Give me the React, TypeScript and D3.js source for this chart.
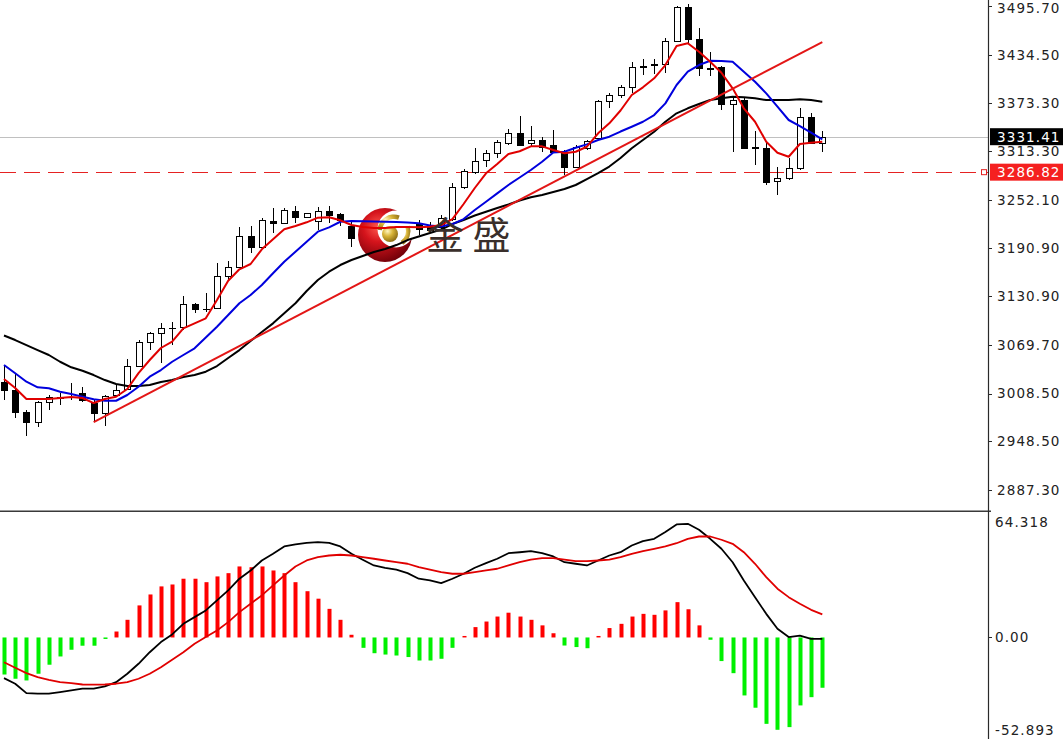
import React from 'react';
import * as d3 from 'd3';

// ---------- DATA ----------
const opens = [3023.0, 3013.0, 2985.3, 2972.7, 2997.9, 3002.9, 3004.2, 3009.2, 2996.6, 2984.1,
  3006.1, 3014.2, 3043.1, 3073.7, 3084.2, 3090.9, 3091.8, 3120.7, 3114.8, 3116.0,
  3156.6, 3167.9, 3206.5, 3193.1, 3225.8, 3222.9, 3238.4, 3230.8, 3225.8, 3238.4,
  3234.2, 3219.1, 3205.3, 3211.6, 3215.3, 3220.4, 3216.6, 3221.6, 3217.9, 3217.9,
  3227.9, 3268.1, 3287.6, 3302.1, 3310.5, 3323.8, 3335.6, 3323.1, 3327.6, 3320.9,
  3311.8, 3293.7, 3316.8, 3329.4, 3376.6, 3383.2, 3393.5, 3418.6, 3422.1, 3422.8,
  3452.0, 3494.0, 3453.8, 3417.3, 3418.6, 3372.5, 3377.5, 3318.0, 3316.8, 3276.1,
  3279.1, 3291.6, 3355.8, 3323.8];
const highs = [3043.1, 3033.1, 2987.8, 2999.2, 3006.7, 3009.2, 3021.8, 3016.7, 3000.4, 3006.7,
  3019.3, 3051.9, 3075.8, 3086.3, 3097.6, 3098.8, 3131.1, 3122.3, 3135.3, 3173.0,
  3175.5, 3217.5, 3219.1, 3228.8, 3241.4, 3241.4, 3244.3, 3236.1, 3243.4, 3244.3,
  3235.8, 3225.8, 3216.6, 3221.6, 3224.1, 3229.2, 3230.4, 3226.7, 3224.1, 3232.9,
  3273.5, 3290.4, 3316.8, 3315.3, 3327.2, 3340.7, 3357.0, 3344.4, 3331.4, 3340.4,
  3314.7, 3320.9, 3327.2, 3377.5, 3385.9, 3396.4, 3425.6, 3428.7, 3428.7, 3455.1,
  3495.7, 3498.2, 3467.6, 3438.2, 3420.2, 3382.5, 3381.6, 3338.9, 3325.1, 3293.7,
  3304.2, 3367.1, 3360.8, 3338.5];
const lows = [3000.4, 2977.8, 2955.1, 2966.5, 2987.8, 2994.1, 3000.4, 2997.9, 2972.7, 2967.7,
  3004.2, 3013.0, 3041.9, 3063.2, 3047.3, 3069.5, 3088.4, 3109.8, 3111.4, 3115.7,
  3150.4, 3165.9, 3185.6, 3192.3, 3209.9, 3222.5, 3222.5, 3230.4, 3214.1, 3222.5,
  3219.1, 3192.3, 3201.5, 3206.5, 3211.6, 3211.6, 3212.8, 3207.8, 3210.3, 3214.1,
  3226.0, 3265.6, 3284.5, 3292.7, 3304.2, 3320.9, 3319.3, 3318.8, 3312.5, 3310.5,
  3283.2, 3292.4, 3314.7, 3327.2, 3367.1, 3379.6, 3385.9, 3408.9, 3410.2, 3411.1,
  3450.8, 3448.8, 3407.7, 3407.7, 3364.9, 3312.5, 3316.5, 3295.8, 3270.7, 3258.1,
  3276.9, 3289.5, 3322.2, 3312.5];
const closes = [3013.0, 2985.3, 2972.7, 2997.9, 3004.2, 3004.2, 3004.8, 3000.4, 2984.1, 3005.4,
  3013.6, 3043.1, 3073.3, 3084.2, 3091.3, 3091.5, 3120.7, 3114.8, 3115.4, 3156.3,
  3167.9, 3206.5, 3193.1, 3226.7, 3222.5, 3239.2, 3230.8, 3235.1, 3238.4, 3233.0,
  3226.7, 3203.6, 3211.6, 3216.6, 3219.1, 3216.6, 3221.6, 3215.3, 3214.1, 3229.2,
  3268.5, 3288.2, 3301.4, 3310.5, 3324.3, 3335.6, 3321.3, 3327.6, 3318.8, 3312.5,
  3293.7, 3318.8, 3325.9, 3376.6, 3383.8, 3393.8, 3418.6, 3420.6, 3422.8, 3452.0,
  3494.0, 3453.8, 3417.3, 3416.8, 3372.5, 3377.5, 3317.5, 3317.5, 3274.8, 3279.1,
  3291.6, 3355.8, 3323.8, 3331.41];

const maFast = [3026.8, 3015.5, 3001.7, 3001.7, 3001.7, 3002.9, 3004.2, 3002.9, 2996.6, 3001.7,
  3004.5, 3014.2, 3034.3, 3050.7, 3065.8, 3073.7, 3090.5, 3096.8, 3103.1, 3126.1,
  3150.4, 3164.7, 3171.4, 3189.8, 3202.4, 3215.0, 3219.1, 3223.8, 3229.6, 3230.1,
  3226.3, 3220.4, 3217.9, 3216.6, 3216.6, 3217.9, 3217.9, 3217.5, 3218.2, 3220.4,
  3227.9, 3246.8, 3266.9, 3285.4, 3297.1, 3309.6, 3313.1, 3319.3, 3319.3, 3314.6,
  3310.5, 3312.5, 3318.8, 3335.6, 3348.2, 3364.3, 3383.8, 3393.5, 3404.8, 3421.5,
  3445.4, 3448.8, 3438.2, 3425.6, 3411.8, 3392.2, 3367.1, 3350.2, 3325.1, 3311.3,
  3306.2, 3322.2, 3323.8, 3325.1];
const maMid = [3044.4, 3034.0, 3023.4, 3016.4, 3015.1, 3010.8, 3007.9, 3004.5, 3001.3, 2999.5,
  2999.5, 3006.7, 3017.1, 3029.7, 3038.1, 3048.5, 3057.0, 3065.4, 3079.0, 3092.5,
  3107.2, 3122.0, 3132.4, 3145.0, 3159.7, 3174.2, 3186.8, 3199.4, 3212.0, 3217.5,
  3224.5, 3225.4, 3225.0, 3224.8, 3224.5, 3224.1, 3223.5, 3222.5, 3219.7, 3218.5,
  3221.6, 3227.9, 3239.2, 3249.7, 3260.2, 3270.7, 3280.1, 3289.5, 3299.9, 3311.5,
  3312.5, 3317.5, 3321.8, 3327.2, 3331.4, 3337.9, 3343.9, 3350.2, 3358.6, 3373.3,
  3396.4, 3413.1, 3421.5, 3426.9, 3426.5, 3425.6, 3413.1, 3400.5, 3385.9, 3369.1,
  3352.4, 3344.8, 3336.4, 3328.1];
const maSlow = [3081.5, 3075.8, 3069.5, 3063.2, 3057.0, 3048.5, 3041.5, 3037.2, 3031.8, 3025.5,
  3020.5, 3018.0, 3018.0, 3019.3, 3023.0, 3025.5, 3029.3, 3031.8, 3036.0, 3043.1,
  3053.2, 3063.2, 3074.6, 3085.9, 3096.8, 3109.4, 3122.0, 3137.4, 3151.2, 3161.7,
  3170.1, 3176.4, 3181.4, 3186.4, 3190.2, 3195.2, 3201.5, 3205.9, 3210.3, 3214.7,
  3221.6, 3226.7, 3232.3, 3237.1, 3241.7, 3246.1, 3251.2, 3255.2, 3258.1, 3261.9,
  3265.6, 3270.7, 3278.2, 3285.7, 3293.9, 3304.6, 3316.8, 3327.2, 3337.7, 3350.2,
  3360.8, 3367.1, 3372.5, 3377.5, 3379.6, 3381.6, 3380.9, 3379.6, 3377.5, 3377.5,
  3377.5, 3378.4, 3377.5, 3375.4];

const macdHist = [-19.3, -21.5, -22.4, -18.9, -14.2, -9.9, -6.4, -4.3, -4.3, -0.7,
  3.1, 9.2, 16.7, 22.4, 26.6, 27.6, 30.6, 30.6, 28.8, 31.8,
  33.5, 37.0, 36.6, 37.0, 34.9, 33.5, 28.8, 24.1, 20.2, 14.9,
  9.2, 1.4, -5.4, -8.2, -8.9, -9.4, -10.2, -12.0, -12.0, -11.1,
  -5.4, 0.5, 5.4, 8.3, 10.9, 12.9, 10.9, 9.2, 6.3, 2.2,
  -4.2, -5.0, -5.6, 0.5, 4.9, 7.1, 10.9, 12.3, 11.8, 14.1,
  18.4, 14.7, 6.3, -1.2, -12.3, -18.6, -30.2, -36.6, -45.0, -48.1,
  -46.7, -35.4, -31.1, -26.2];
const macdMain = [-21.2, -24.1, -29.0, -29.3, -29.3, -28.5, -27.6, -26.7, -26.7, -25.5,
  -23.3, -18.9, -13.7, -7.7, -2.4, 1.6, 7.1, 10.6, 14.1, 19.3,
  24.5, 30.6, 34.9, 40.1, 43.6, 47.4, 48.5, 49.3, 49.7, 49.3,
  47.4, 43.6, 40.5, 37.5, 36.3, 35.3, 33.5, 30.6, 29.7, 28.3,
  30.6, 33.2, 36.3, 38.7, 41.0, 43.9, 44.4, 45.0, 43.9, 42.2,
  39.2, 38.4, 37.5, 40.1, 42.7, 44.4, 47.9, 50.2, 51.4, 54.9,
  58.9, 59.2, 56.1, 51.4, 46.2, 39.2, 29.7, 21.0, 12.3, 4.5,
  0.2, 1.0, -0.7, -0.7];
const macdSignal = [-12.9, -15.8, -18.6, -20.7, -22.1, -23.3, -23.8, -24.5, -24.6, -24.5,
  -24.1, -23.3, -21.5, -18.9, -15.5, -11.6, -7.7, -3.3, 0.2, 3.6,
  8.0, 13.2, 17.6, 21.9, 27.1, 32.3, 37.0, 40.1, 41.8, 42.7,
  43.1, 42.7, 41.8, 41.0, 40.1, 39.2, 38.4, 36.6, 35.3, 34.0,
  33.2, 33.2, 34.0, 34.9, 35.8, 37.5, 39.2, 40.5, 41.3, 41.3,
  40.5, 39.8, 39.8, 40.1, 40.5, 41.8, 43.6, 45.0, 46.2, 47.4,
  49.1, 51.4, 52.6, 52.6, 50.9, 48.8, 44.4, 38.4, 31.4, 25.4,
  21.0, 17.6, 14.4, 12.0];

const priceTicks = [3495.70, 3434.50, 3373.30, 3313.30, 3252.10, 3190.90, 3130.90, 3069.70, 3008.50, 2948.50, 2887.30];
const macdMax = 64.318;
const macdMin = -52.893;
const lastPrice = 3331.41;
const levelPrice = 3286.82;
const trendFrom = { i: 8, v: 2972.7 };
const trendTo = { i: 73, v: 3450.4 };
const logoText = '金 盛';

export default function App() {
  const W = 1063, H = 739;
  const axisX = 988;
  const x = d3.scaleLinear().domain([0, opens.length - 1]).range([4, 822.3]);
  const y = d3.scaleLinear().domain([2887.3, 3495.7]).range([490, 6]);
  const m = d3.scaleLinear().domain([macdMin, macdMax]).range([739, 514]);

  const px = (i: number) => Math.round(x(i));
  const line = (arr: number[], sc: d3.ScaleLinear<number, number>) =>
    d3.line<number>().x((_, i) => x(i)).y((d) => sc(d))(arr) || '';

  const labelStyle: React.CSSProperties = { fontFamily: 'DejaVu Sans, Verdana, sans-serif', fontSize: 13.5, letterSpacing: 1.1 };

  const goldTop = d3.arc()({ innerRadius: 12, outerRadius: 16.5, startAngle: -1.5, endAngle: 0.35 } as any) || '';
  const goldRight = d3.arc()({ innerRadius: 12, outerRadius: 16.5, startAngle: 1.25, endAngle: 2.55 } as any) || '';

  return (
    <svg width={W} height={H} style={{ position: 'absolute', left: 0, top: 0, display: 'block', background: '#fff' }}>
      <defs>
        <clipPath id="pricePane"><rect x={0} y={0} width={axisX} height={509} /></clipPath>
        <clipPath id="macdPane"><rect x={0} y={513} width={axisX} height={226} /></clipPath>
        <radialGradient id="redBall" cx="38%" cy="35%" r="70%">
          <stop offset="0%" stopColor="#ff5a50" />
          <stop offset="40%" stopColor="#d5141c" />
          <stop offset="100%" stopColor="#6e0008" />
        </radialGradient>
        <radialGradient id="goldBall" cx="35%" cy="32%" r="72%">
          <stop offset="0%" stopColor="#fff6c0" />
          <stop offset="45%" stopColor="#d8b438" />
          <stop offset="100%" stopColor="#8a6a12" />
        </radialGradient>
      </defs>
      <rect x={0} y={0} width={W} height={H} fill="#fff" />

      {/* ---------- price pane ---------- */}
      <g clipPath="url(#pricePane)">
        <line x1={0} x2={axisX} y1={Math.round(y(lastPrice)) + 0.5} y2={Math.round(y(lastPrice)) + 0.5} stroke="#c0c0c0" strokeWidth={1} />
        <line x1={0} x2={axisX} y1={Math.round(y(levelPrice)) + 0.5} y2={Math.round(y(levelPrice)) + 0.5} stroke="#e52222" strokeWidth={1.2} strokeDasharray="16 8" />

        {/* candles */}
        {opens.map((o, i) => {
          const c = closes[i];
          const cx = px(i) + 0.5;
          const top = Math.round(y(Math.max(o, c)));
          const bot = Math.round(y(Math.min(o, c)));
          const bull = c >= o;
          return (
            <g key={i}>
              <line x1={cx} x2={cx} y1={Math.round(y(highs[i]))} y2={Math.round(y(lows[i]))} stroke="#000" strokeWidth={1} />
              {bot - top < 1 ? (
                <line x1={cx - 3.5} x2={cx + 3.5} y1={top + 0.5} y2={top + 0.5} stroke="#000" strokeWidth={1} />
              ) : (
                <rect x={cx - 3} y={top + 0.5} width={6} height={bot - top} fill={bull ? '#fff' : '#000'} stroke="#000" strokeWidth={1} />
              )}
            </g>
          );
        })}

        {/* logo (covers the candles beneath it) */}
        <g>
          <circle cx={385} cy={235} r={27} fill="url(#redBall)" />
          <circle cx={396} cy={229} r={18.5} fill="#fff" />
          <g transform="translate(394,231)">
            <path d={goldTop} fill="url(#goldBall)" />
            <path d={goldRight} fill="url(#goldBall)" />
          </g>
          <circle cx={390} cy={234} r={8} fill="url(#goldBall)" />
        </g>

        {/* moving averages & trend */}
        <path d={line(maSlow, y)} fill="none" stroke="#000" strokeWidth={2} strokeLinejoin="round" />
        <path d={line(maMid, y)} fill="none" stroke="#0000dd" strokeWidth={2} strokeLinejoin="round" />
        <path d={line(maFast, y)} fill="none" stroke="#e00000" strokeWidth={2} strokeLinejoin="round" />
        <line x1={x(trendFrom.i)} y1={y(trendFrom.v)} x2={x(trendTo.i)} y2={y(trendTo.v)} stroke="#e31616" strokeWidth={2} />

        <text x={426} y={249} fontFamily="Noto Sans CJK SC, sans-serif" fontSize={38} fill="#3a2f2b">{logoText}</text>
      </g>

      {/* ---------- MACD pane ---------- */}
      <g clipPath="url(#macdPane)">
        {macdHist.map((v, i) => {
          const y0 = m(0);
          const y1 = m(v);
          const h = Math.max(1.5, Math.abs(y1 - y0));
          return (
            <rect key={i} x={px(i) - 1.5} y={v >= 0 ? y0 - h : y0} width={4} height={h} fill={v >= 0 ? '#ff0000' : '#00f000'} />
          );
        })}
        <path d={line(macdMain, m)} fill="none" stroke="#000" strokeWidth={1.8} strokeLinejoin="round" />
        <path d={line(macdSignal, m)} fill="none" stroke="#e00000" strokeWidth={1.8} strokeLinejoin="round" />
      </g>

      {/* ---------- frames / axis ---------- */}
      <line x1={0} x2={axisX + 3} y1={510.5} y2={510.5} stroke="#9a9a9a" strokeWidth={1} />
      <line x1={0} x2={axisX + 3} y1={511.5} y2={511.5} stroke="#3a3a3a" strokeWidth={1.2} />
      <line x1={axisX + 0.5} x2={axisX + 0.5} y1={0} y2={H} stroke="#2a2a2a" strokeWidth={1.2} />

      {priceTicks.map((t) => (
        <g key={t}>
          <line x1={axisX} x2={axisX + 4} y1={Math.round(y(t)) + 0.5} y2={Math.round(y(t)) + 0.5} stroke="#2a2a2a" />
          <text x={997} y={Math.max(y(t), 8)} dy="0.36em" fill="#222" style={labelStyle}>{t.toFixed(2)}</text>
        </g>
      ))}

      {/* current price tag */}
      <rect x={990} y={y(lastPrice) - 8.5} width={73} height={17} fill="#000" />
      <text x={997} y={y(lastPrice)} dy="0.36em" fill="#fff" style={labelStyle}>{lastPrice.toFixed(2)}</text>
      {/* level tag */}
      <rect x={981.5} y={y(levelPrice) - 2.5} width={5} height={5} fill="#fff" stroke="#e52222" strokeWidth={1} />
      <rect x={990} y={y(levelPrice) - 8.5} width={73} height={17} fill="#f52020" />
      <text x={997} y={y(levelPrice)} dy="0.36em" fill="#fff" style={labelStyle}>{levelPrice.toFixed(2)}</text>

      {/* MACD labels */}
      <text x={995} y={m(macdMax) + 8} dy="0.36em" fill="#222" style={labelStyle}>{macdMax.toFixed(3)}</text>
      <line x1={axisX} x2={axisX + 4} y1={Math.round(m(0)) + 0.5} y2={Math.round(m(0)) + 0.5} stroke="#2a2a2a" />
      <text x={995} y={m(0)} dy="0.36em" fill="#222" style={labelStyle}>{(0).toFixed(2)}</text>
      <text x={995} y={m(macdMin) - 9} dy="0.36em" fill="#222" style={labelStyle}>{macdMin.toFixed(3)}</text>
    </svg>
  );
}
